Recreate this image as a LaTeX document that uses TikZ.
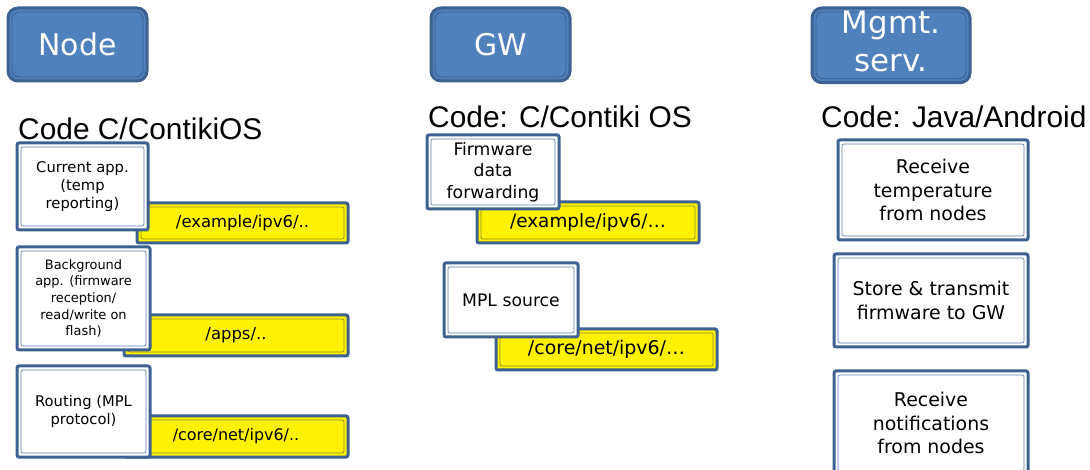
\documentclass[tikz,border=0pt]{standalone}
\usepackage{fontspec}
\setmainfont{DejaVu Sans}
\newfontfamily\headfont{Liberation Sans}
\definecolor{bdr}{HTML}{3D6190}
\definecolor{btnfill}{HTML}{4F81BD}
\definecolor{btninner}{HTML}{3A5F8E}
\definecolor{boxinner}{HTML}{5F82B0}
\definecolor{ylwinner}{HTML}{8C8C3C}
\tikzset{
  wh/.style 2 args={minimum width=#1bp, minimum height=#2bp},
  base/.style={rectangle, anchor=north west, inner sep=0pt, outer sep=0pt,
    line width=3bp, draw=bdr, align=center},
  btn/.style={base, fill=btnfill, rounded corners=10bp, text=white,
    font=\fontsize{30}{36}\selectfont,
    path picture={\draw[line width=0.9bp, draw=btninner, rounded corners=7bp]
      ([shift={(4bp,-4bp)}]path picture bounding box.north west) rectangle
      ([shift={(-4bp,4bp)}]path picture bounding box.south east);}},
  wbox/.style={base, fill=white, rounded corners=2bp,
    path picture={\draw[line width=0.7bp, draw=boxinner]
      ([shift={(4bp,-4bp)}]path picture bounding box.north west) rectangle
      ([shift={(-4bp,4bp)}]path picture bounding box.south east);}},
  ybox/.style={base, fill=yellow, rounded corners=2bp,
    path picture={\draw[line width=0.7bp, draw=ylwinner]
      ([shift={(4bp,-4bp)}]path picture bounding box.north west) rectangle
      ([shift={(-4bp,4bp)}]path picture bounding box.south east);}},
  head/.style={anchor=base west, inner sep=0pt, font=\headfont\fontsize{30}{34}\selectfont},
}
\begin{document}
\begin{tikzpicture}[x=1bp,y=-1bp]
\useasboundingbox (0,0) rectangle (1090,470);
\clip (0,0) rectangle (1090,470);
% buttons
\node[btn, wh={139}{73}] (bnode) at (8,8) {Node};
\node[btn, wh={139}{73}] (bgw) at (431,8) {GW};
\node[btn, wh={158}{73}, font=\fontsize{31}{37}\selectfont] (bmg) at (812,8) {\raisebox{4bp}{\begin{tabular}{@{}c@{}}Mgmt.\\[1bp]serv.\end{tabular}}};
% headings
\node[head] (hnode) at (18,140) {Code C/ContikiOS};
\node[head] (hgw) at (428,128) {Code: C/Contiki OS};
\node[head] (hmg) at (821,128) {Code: Java/Android};
% Node column
\node[ybox, wh={211}{40}, font=\fontsize{16.5}{18}\selectfont] (y1) at (137,203) {/example/ipv6/..};
\node[ybox, wh={224}{41}, font=\fontsize{16.5}{18}\selectfont] (y2) at (124,315) {/apps/..};
\node[ybox, wh={224}{41}, font=\fontsize{16}{18}\selectfont] (y3) at (124,416) {/core/net/ipv6/..};
\node[wbox, wh={131}{87}, font=\fontsize{14.8}{18}\selectfont] (n1) at (17,143) {Current app.\\(temp\\reporting)};
\node[wbox, wh={133}{103}, font=\fontsize{13}{16.7}\selectfont] (n2) at (17,247) {Background\\app. (firmware\\reception/\\read/write on\\flash)};
\node[wbox, wh={133}{91}, font=\fontsize{14.8}{18}\selectfont] (n3) at (17,366) {Routing (MPL\\protocol)};
% GW column
\node[ybox, wh={222}{41}, font=\fontsize{18.5}{20}\selectfont] (g1y) at (477,202) {/example/ipv6/\dots};
\node[wbox, wh={132}{74}, font=\fontsize{17.3}{21.5}\selectfont] (g1) at (427,135) {Firmware\\data\\forwarding};
\node[ybox, wh={221}{41}, font=\fontsize{19}{20}\selectfont] (g2y) at (496,329) {/core/net/ipv6/\dots};
\node[wbox, wh={134}{74}, font=\fontsize{17.3}{20}\selectfont] (g2) at (444,263) {MPL source};
% Mgmt column
\node[wbox, wh={190}{100}, font=\fontsize{19}{23.5}\selectfont] (m1) at (838,140) {Receive\\temperature\\from nodes};
\node[wbox, wh={194}{93}, font=\fontsize{19}{24}\selectfont] (m2) at (834,254) {Store \& transmit\\firmware to GW};
\node[wbox, wh={194}{104}, font=\fontsize{19}{23.5}\selectfont] (m3) at (834,371) {Receive\\notifications\\from nodes};
\end{tikzpicture}
\end{document}
